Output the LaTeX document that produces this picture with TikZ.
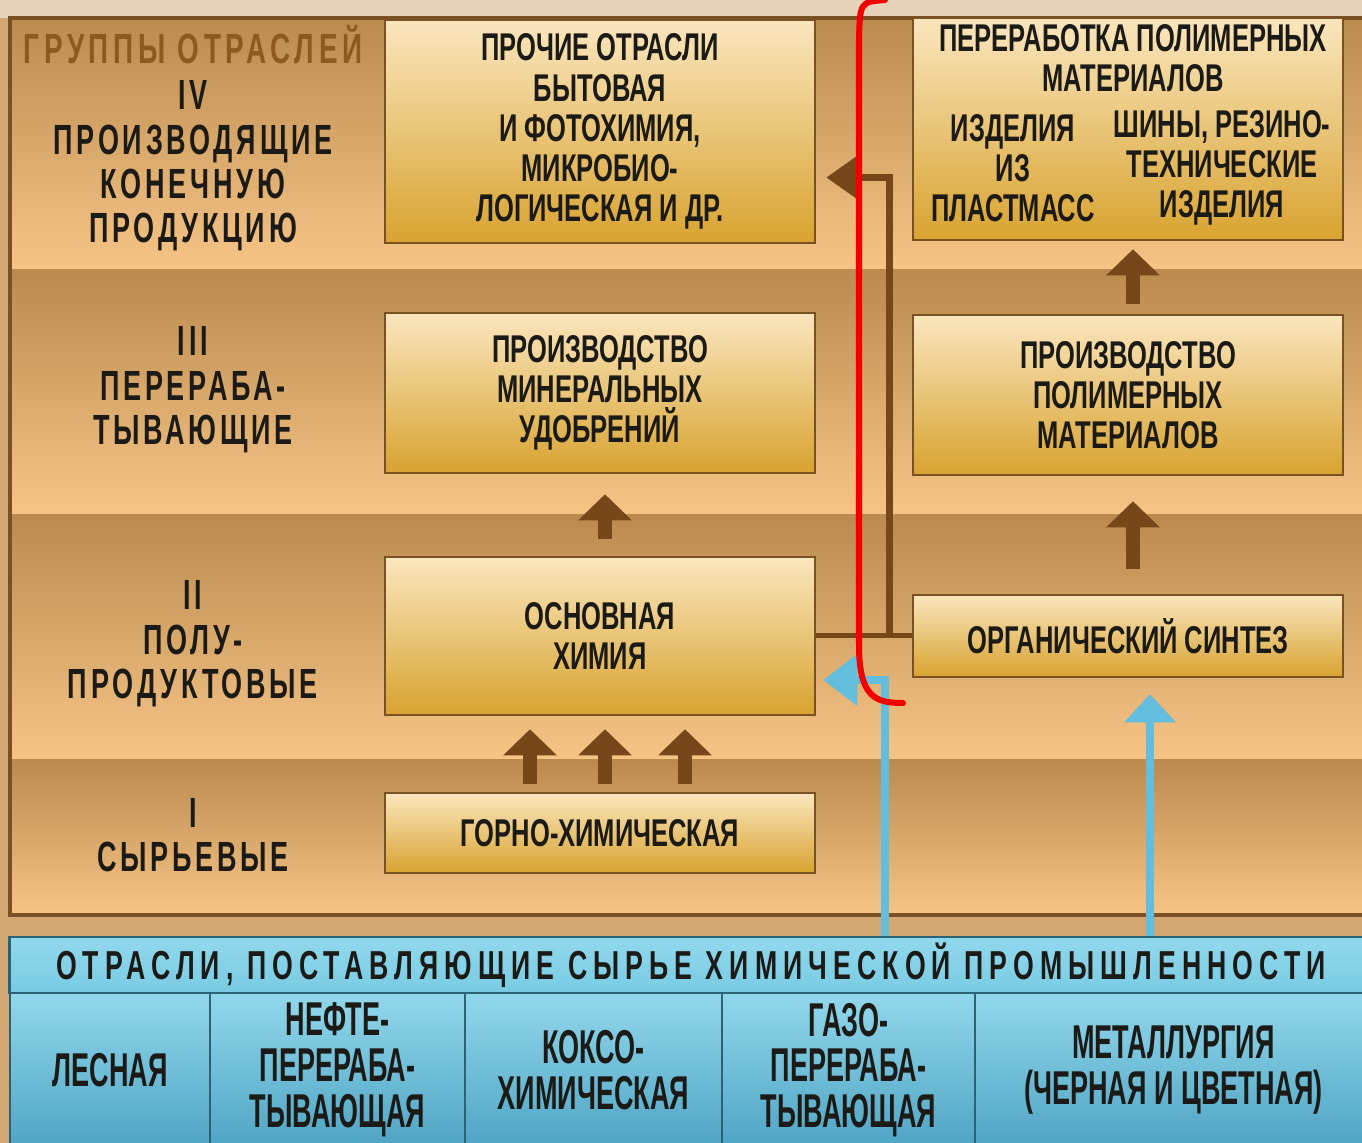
\documentclass[tikz,border=0pt]{standalone}
\usepackage{fontspec}
\setmainfont{Liberation Sans}
\newfontfamily\boxfont{Liberation Sans}[FakeStretch=0.66]
\newfontfamily\grpfont{Liberation Sans}[FakeStretch=0.64,LetterSpace=9]
\newfontfamily\titfont{Liberation Sans}[FakeStretch=0.66,LetterSpace=11]
\newfontfamily\hdrfont{Liberation Sans}[FakeStretch=0.66,LetterSpace=15]
\newfontfamily\cellfont{Liberation Sans}[FakeStretch=0.57]
\usetikzlibrary{arrows.meta,calc}
\definecolor{bgcol}{HTML}{D2A772}
\definecolor{topstrip}{HTML}{E6D3BA}
\definecolor{rowdark}{HTML}{BA8A4F}
\definecolor{rowlight}{HTML}{F6C586}
\definecolor{boxtop}{HTML}{FAE6BE}
\definecolor{boxbot}{HTML}{D8A330}
\definecolor{boxline}{HTML}{7A5122}
\definecolor{ink}{HTML}{1C1A16}
\definecolor{grpink}{HTML}{8C5A1E}
\definecolor{arrowbr}{HTML}{774719}
\definecolor{arrowbl}{HTML}{62BEDC}
\definecolor{celltop}{HTML}{92D8EC}
\definecolor{cellbot}{HTML}{4FA4C4}
\definecolor{hdrbot}{HTML}{78CBE4}
\definecolor{cellline}{HTML}{2B6274}
\definecolor{markred}{HTML}{F20000}

\begin{document}
\begin{tikzpicture}[x=0.01cm,y=-0.01cm,>={Triangle[width=0.52cm,length=0.26cm]},
  txt/.style={font=\boxfont\bfseries\fontsize{11}{11.4}\selectfont,text=ink,align=center,inner sep=0pt},
  lab/.style={font=\grpfont\bfseries\fontsize{12}{12.6}\selectfont,text=ink,align=center,inner sep=0pt},
  box/.style={draw=boxline,line width=0.7pt,top color=boxtop,bottom color=boxbot,inner sep=0pt,minimum width=4.3cm},
  cell/.style={draw=cellline,line width=0.7pt,top color=celltop,bottom color=cellbot,text=ink,align=center,inner sep=0pt,
    font=\cellfont\bfseries\fontsize{13.5}{13}\selectfont,minimum height=1.54cm},
  brarrow/.style={draw=arrowbr,line width=0.13cm,->},
  brline/.style={draw=arrowbr,line width=0.05cm},
  blarrow/.style={draw=arrowbl,line width=0.08cm,-{Triangle[width=0.5cm,length=0.34cm]}}]
\useasboundingbox (0,0) rectangle (1362,1143);
\fill[bgcol] (0,0) rectangle (1362,1143);
\fill[topstrip] (0,0) rectangle (1362,18);
\foreach \ya/\yb in {18/270,270/515,515/760,760/915}
  \shade[top color=rowdark,bottom color=rowlight] (10,\ya) rectangle (1362,\yb);
\draw[boxline,line width=1.2pt] (10,18) rectangle (1372,915);

% groups of branches
\node[lab,font=\titfont\bfseries\fontsize{12}{12.6}\selectfont,text=grpink] (grp) at (193,45) {ГРУППЫ ОТРАСЛЕЙ};
\node[lab] (lab4) at (193,166) {IV\\ПРОИЗВОДЯЩИЕ\\КОНЕЧНУЮ\\ПРОДУКЦИЮ};
\node[lab] (lab3) at (193,390) {III\\ПЕРЕРАБА-\\ТЫВАЮЩИЕ};
\node[lab] (lab2) at (193,644) {II\\ПОЛУ-\\ПРОДУКТОВЫЕ};
\node[lab] (lab1) at (193,835) {I\\СЫРЬЕВЫЕ};

\node[box,txt,minimum height=2.23cm] (prochie) at (600,131.5) {ПРОЧИЕ ОТРАСЛИ\\БЫТОВАЯ\\И ФОТОХИМИЯ,\\МИКРОБИО-\\ЛОГИЧЕСКАЯ И ДР.};
\node[box,minimum height=2.22cm] (pererab) at (1128,129) {};
\node[txt] (pertitle) at (1133,58) {ПЕРЕРАБОТКА ПОЛИМЕРНЫХ\\МАТЕРИАЛОВ};
\node[txt] (plast) at (1013,168) {ИЗДЕЛИЯ\\ИЗ\\ПЛАСТМАСС};
\node[txt] (shiny) at (1222,168) {ШИНЫ, РЕЗИНО-\\ТЕХНИЧЕСКИЕ\\ИЗДЕЛИЯ};
\node[box,txt,minimum height=1.6cm] (mineral) at (600,393) {ПРОИЗВОДСТВО\\МИНЕРАЛЬНЫХ\\УДОБРЕНИЙ};
\node[box,txt,minimum height=1.6cm] (polimer) at (1128,395) {ПРОИЗВОДСТВО\\ПОЛИМЕРНЫХ\\МАТЕРИАЛОВ};
\node[box,txt,minimum height=1.58cm] (osnov) at (600,636) {ОСНОВНАЯ\\ХИМИЯ};
\node[box,txt,minimum height=0.82cm] (orgsint) at (1128,636) {ОРГАНИЧЕСКИЙ СИНТЕЗ};
\node[box,txt,minimum height=0.8cm] (gorno) at (600,833) {ГОРНО-ХИМИЧЕСКАЯ};

% suppliers
\node[cell,top color=celltop,bottom color=hdrbot,minimum width=13.62cm,minimum height=0.56cm,
  font=\hdrfont\bfseries\fontsize{11.5}{11.5}\selectfont] (hdr) at (691,965) {ОТРАСЛИ, ПОСТАВЛЯЮЩИЕ СЫРЬЕ ХИМИЧЕСКОЙ ПРОМЫШЛЕННОСТИ};
\node[cell,minimum width=2cm] (lesn) at (110,1070) {ЛЕСНАЯ};
\node[cell,minimum width=2.55cm] (neft) at (337.5,1070) {НЕФТЕ-\\ПЕРЕРАБА-\\ТЫВАЮЩАЯ};
\node[cell,minimum width=2.57cm] (kokso) at (593.5,1070) {КОКСО-\\ХИМИЧЕСКАЯ};
\node[cell,minimum width=2.53cm] (gazo) at (848.5,1070) {ГАЗО-\\ПЕРЕРАБА-\\ТЫВАЮЩАЯ};
\node[cell,minimum width=3.97cm] (metal) at (1173.5,1070) {МЕТАЛЛУРГИЯ\\(ЧЕРНАЯ И ЦВЕТНАЯ)};

% arrows between groups
\foreach \dx in {-70,5,85}
  \draw[brarrow] ($(gorno.north)+(\dx,-8)$) -- ($(osnov.south)+(\dx,13)$);
\draw[brarrow] ($(osnov.north)+(5,-17)$) -- ($(mineral.south)+(5,20)$);
\draw[brarrow] ($(orgsint.north)+(5,-25)$) -- ($(polimer.south)+(5,25)$);
\draw[brarrow] ($(polimer.north)+(5,-10)$) -- ($(pererab.south)+(5,8)$);
\draw[brline] (osnov.east) -- (orgsint.west);
\draw[brline,line width=0.07cm,-{Triangle[width=0.46cm,length=0.34cm]}]
  ($(osnov.east)!0.765!(orgsint.west)$) |- ($(prochie.east)+(10,46)$);
\draw[blarrow] ($(hdr.north)+(194,0)$) |- ($(osnov.east)+(7,44)$);
\draw[blarrow,-{Triangle[width=0.5cm,length=0.28cm]}] ($(hdr.north)+(459,0)$) -- ($(orgsint.south)+(22,16)$);

\draw[markred,line width=0.06cm,line cap=round] (885,0) .. controls (860,2) .. (859,40) -- (859,645)
  .. controls (859,698) and (876,703) .. (903,703);
\end{tikzpicture}
\end{document}
